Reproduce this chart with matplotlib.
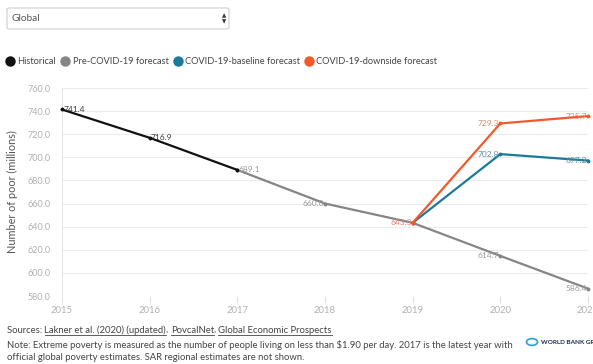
import matplotlib
matplotlib.use("Agg")
import matplotlib.pyplot as plt
from matplotlib.patches import FancyBboxPatch, Circle
from matplotlib.lines import Line2D

plt.rcParams['font.family'] = ['Lato', 'DejaVu Sans']

years_hist = [2015, 2016, 2017]
hist = [741.4, 716.9, 689.1]
years_pre = [2017, 2018, 2019, 2020, 2021]
pre = [689.1, 660.0, 643.3, 614.7, 586.4]
years_cov = [2019, 2020, 2021]
baseline = [643.3, 702.8, 697.2]
downside = [643.3, 729.3, 735.7]
yticks = [580, 600, 620, 640, 660, 680, 700, 720, 740, 760]
xticks = [2015, 2016, 2017, 2018, 2019, 2020, 2021]
legend_labels = ["Historical", "Pre-COVID-19 forecast", "COVID-19-baseline forecast", "COVID-19-downside forecast"]

C_HIST = "#111111"
C_PRE = "#858585"
C_BASE = "#1b7a9a"
C_DOWN = "#f05a2b"

W, H = 593, 364
fig = plt.figure(figsize=(W/100, H/100), dpi=100)
fig.patch.set_facecolor("white")

def fx(px): return px / W
def fy(py): return 1 - py / H

ax = fig.add_axes([fx(62), fy(296), fx(588) - fx(62), fy(88) - fy(296)])
ax.set_xlim(2015, 2021)
ax.set_ylim(580, 760)
ax.set_yticks(yticks)
ax.set_yticklabels([f"{v:.1f}" for v in yticks])
ax.set_xticks(xticks)
ax.set_xticklabels([str(v) for v in xticks])
ax.grid(axis='y', color="#ececec", linewidth=0.8)
ax.set_axisbelow(True)
for s in ['top', 'right', 'bottom']:
    ax.spines[s].set_visible(False)
ax.spines['left'].set_color("#e6e6e6")
ax.spines['left'].set_linewidth(0.8)
ax.tick_params(axis='y', length=0, colors="#b0b0b0", labelsize=6.5, pad=8)
ax.tick_params(axis='x', length=5, color="#e0e0e0", colors="#b0b0b0", labelsize=6.8, pad=2)
ax.set_ylabel("Number of poor (millions)", color="#555555", fontsize=7.8, labelpad=7)

lw = 1.6
ax.plot(years_pre, pre, color=C_PRE, lw=lw, marker='o', ms=1.8, zorder=3, clip_on=False)
ax.plot(years_cov, baseline, color=C_BASE, lw=lw, marker='o', ms=1.8, zorder=4, clip_on=False)
ax.plot(years_cov, downside, color=C_DOWN, lw=lw, marker='o', ms=1.8, zorder=5, clip_on=False)
ax.plot(years_hist, hist, color=C_HIST, lw=lw, marker='o', ms=1.8, zorder=6, clip_on=False)

fs = 6.0
def lab(x, y, c, ha):
    dx = 0.8 if ha == 'left' else -0.8
    ax.annotate(f"{y:.1f}", (x, y), xytext=(dx, 0), textcoords='offset points',
                ha=ha, va='center', fontsize=fs, color=c, zorder=10, annotation_clip=False)

for x, y in zip(years_hist, hist):
    if x < 2017:
        lab(x, y, "#3a3a3a", 'left')
lab(2017, 689.1, "#9a9a9a", 'left')
for x, y in zip(years_pre[1:], pre[1:]):
    if x != 2019:
        lab(x, y, "#9a9a9a", 'right')
lab(2019, 643.3, "#e5836c", 'right')
for x, y in zip(years_cov[1:], baseline[1:]):
    lab(x, y, "#5f8e9e", 'right')
for x, y in zip(years_cov[1:], downside[1:]):
    lab(x, y, "#e5836c", 'right')

# dropdown
box = FancyBboxPatch((fx(7), fy(29)), fx(229) - fx(7), fy(8) - fy(29),
                     boxstyle="round,pad=0,rounding_size=0.004", transform=fig.transFigure,
                     facecolor="white", edgecolor="#cfcfcf", linewidth=0.8)
fig.patches.append(box)
fig.text(fx(12), fy(18.5), "Global", fontsize=7.3, color="#555555", va='center', ha='left')
fig.text(fx(224), fy(15.5), "▲", fontsize=4, color="#333333", va='center', ha='center', family=['DejaVu Sans'])
fig.text(fx(224), fy(21.5), "▼", fontsize=4, color="#333333", va='center', ha='center', family=['DejaVu Sans'])

# legend
fig.canvas.draw()
renderer = fig.canvas.get_renderer()
colors = [C_HIST, C_PRE, C_BASE, C_DOWN]
xpos = 10
ly = fy(61)
for lbl, c in zip(legend_labels, colors):
    fig.add_artist(Line2D([fx(xpos)], [ly], marker='o', ms=6.5, color=c, transform=fig.transFigure, linestyle='none'))
    t = fig.text(fx(xpos + 7.5), ly, lbl, fontsize=6.7, color="#444444", va='center', ha='left')
    bb = t.get_window_extent(renderer)
    xpos = bb.x1 + 9

# footer
FS = 6.8
def seq_text(x0, y, parts, fs=FS, color="#444444"):
    x = x0
    for txt, und in parts:
        t = fig.text(fx(x), fy(y), txt, fontsize=fs, color=color, va='baseline', ha='left')
        bb = t.get_window_extent(renderer)
        if und:
            fig.add_artist(Line2D([bb.x0 / W, bb.x1 / W], [fy(y + 2), fy(y + 2)], color=color, lw=0.6, transform=fig.transFigure))
        x = bb.x1
    return x

seq_text(7, 333, [("Sources: ", False), ("Lakner et al. (2020) (updated)", True), (", ", False),
                  ("PovcalNet", True), (", ", False), ("Global Economic Prospects", True)])
fig.text(fx(7), fy(348), "Note: Extreme poverty is measured as the number of people living on less than $1.90 per day. 2017 is the latest year with",
         fontsize=FS, color="#444444", va='baseline', ha='left')
fig.text(fx(7), fy(360), "official global poverty estimates. SAR regional estimates are not shown.",
         fontsize=FS, color="#444444", va='baseline', ha='left')

# logo
fig.patches.append(Circle((fx(532), fy(342)), 5.5 / W * 1.0, transform=fig.transFigure,
                          facecolor="white", edgecolor="#2a9fd6", linewidth=1.2))
fig.text(fx(541), fy(342), "WORLD BANK GROUP", fontsize=4.6, fontweight='bold', color="#1a2a4a", va='center', ha='left')

fig.savefig("out.png", dpi=100, facecolor="white")
